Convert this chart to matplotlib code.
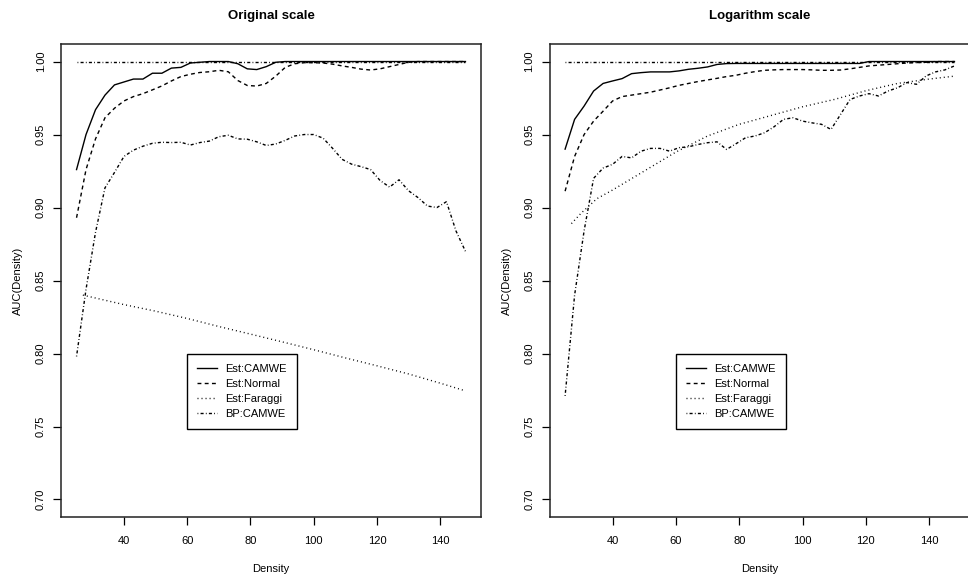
import matplotlib
matplotlib.use("Agg")
import matplotlib.pyplot as plt

plt.rcParams['font.family'] = ['Liberation Sans', 'DejaVu Sans']
plt.rcParams['lines.scale_dashes'] = False

# density grid shared by the estimated curves
density = [25, 28, 31, 34, 37, 40, 43, 46, 49, 52, 55, 58, 61, 64, 67, 70, 73,
           76, 79, 82, 85, 88, 91, 94, 97, 100, 103, 106, 109, 112, 115, 118,
           121, 124, 127, 130, 133, 136, 139, 142, 145, 148]

# --- original scale ---
orig_camwe = [0.926, 0.950, 0.967, 0.977, 0.984, 0.986, 0.988, 0.988, 0.992, 0.992,
              0.9955, 0.996, 0.999, 0.9995, 1.0, 1.0, 1.0, 0.9985, 0.995, 0.9945,
              0.9965, 0.9995, 1.0, 1.0, 1.0, 1.0, 1.0, 1.0, 1.0, 1.0, 1.0, 1.0,
              1.0, 1.0, 1.0, 1.0, 1.0, 1.0, 1.0, 1.0, 1.0, 1.0]
orig_normal = [0.893, 0.926, 0.947, 0.9615, 0.968, 0.973, 0.976, 0.978, 0.9806, 0.9833,
               0.9867, 0.9897, 0.9913, 0.9925, 0.993, 0.994, 0.993, 0.987, 0.9836, 0.9832,
               0.985, 0.990, 0.996, 0.9985, 0.9992, 0.9992, 0.999, 0.9982, 0.997, 0.996,
               0.9948, 0.9942, 0.995, 0.9965, 0.998, 0.9995, 1.0, 1.0, 1.0, 1.0, 1.0, 1.0]
orig_bp = [0.798, 0.844, 0.883, 0.9135, 0.924, 0.935, 0.9393, 0.942, 0.944, 0.9447,
           0.9445, 0.9447, 0.9428, 0.9445, 0.9455, 0.9485, 0.9495, 0.947, 0.9468, 0.945,
           0.9425, 0.9435, 0.946, 0.949, 0.950, 0.950, 0.9475, 0.9405, 0.933, 0.9297,
           0.928, 0.926, 0.9185, 0.914, 0.919, 0.9115, 0.9068, 0.901, 0.900, 0.904,
           0.884, 0.870]

# Faraggi estimate is on its own grid
faraggi_density = [27, 30, 35, 40, 50, 60, 70, 80, 90, 100, 110, 120, 130, 140, 148]
orig_faraggi = [0.840, 0.8385, 0.836, 0.8335, 0.829, 0.824, 0.8185, 0.8133, 0.808,
                0.8026, 0.797, 0.7916, 0.786, 0.7797, 0.7744]

# --- logarithm scale ---
log_camwe = [0.940, 0.9604, 0.9695, 0.9798, 0.985, 0.9867, 0.9883, 0.9917, 0.9924, 0.9929,
             0.9929, 0.9929, 0.9936, 0.9947, 0.9954, 0.9963, 0.998, 0.9986, 0.9987, 0.9987,
             0.9987, 0.9987, 0.9987, 0.9987, 0.9987, 0.9987, 0.9987, 0.9987, 0.9987, 0.9987,
             0.9987, 0.9987, 1.0, 1.0, 1.0, 1.0, 1.0, 1.0, 1.0, 1.0, 1.0, 1.0]
log_normal = [0.9112, 0.935, 0.950, 0.9592, 0.966, 0.973, 0.976, 0.977, 0.978, 0.979,
              0.9805, 0.982, 0.9837, 0.985, 0.9863, 0.9874, 0.9885, 0.9897, 0.9906, 0.992,
              0.9931, 0.994, 0.9943, 0.9945, 0.9945, 0.9945, 0.9943, 0.994, 0.994, 0.9942,
              0.995, 0.996, 0.997, 0.9975, 0.998, 0.9985, 0.999, 0.9993, 0.9995, 1.0, 1.0, 1.0]
log_bp = [0.771, 0.840, 0.884, 0.920, 0.927, 0.9296, 0.935, 0.934, 0.9386, 0.9405,
          0.9405, 0.9386, 0.941, 0.9416, 0.9432, 0.9444, 0.945, 0.9398, 0.9437, 0.9478,
          0.949, 0.9512, 0.9553, 0.9604, 0.9615, 0.9592, 0.958, 0.957, 0.9535, 0.9637,
          0.974, 0.9764, 0.978, 0.9764, 0.9798, 0.982, 0.9856, 0.9844, 0.9901, 0.9929,
          0.9943, 0.997]
log_faraggi = [0.889, 0.896, 0.906, 0.912, 0.925, 0.938, 0.949, 0.957, 0.963, 0.969,
               0.974, 0.980, 0.985, 0.988, 0.990]

# true AUC reference line
ref_density = [25, 148]
ref_auc = [1.0, 1.0]

xticks = [40, 60, 80, 100, 120, 140]
yticks = [0.70, 0.75, 0.80, 0.85, 0.90, 0.95, 1.00]

dash = (0, (2.8, 2.4))
dot = (0, (0.7, 2.2))
dotdash = (0, (0.6, 1.6, 2.2, 1.6))

fig = plt.figure(figsize=(9.68, 5.8), dpi=100)
ax1 = fig.add_axes([0.0630, 0.1086, 0.4339, 0.8155])
ax2 = fig.add_axes([0.5677, 0.1086, 0.4344, 0.8155])

panels = [
    (ax1, "Original scale", orig_camwe, orig_normal, orig_faraggi, orig_bp),
    (ax2, "Logarithm scale", log_camwe, log_normal, log_faraggi, log_bp),
]

for ax, title, camwe, normal, faraggi, bp in panels:
    lw = 1.0
    ax.plot(ref_density, ref_auc, color='black', lw=lw, linestyle=dotdash)
    ax.plot(density, camwe, color='black', lw=lw, linestyle='-', label='Est:CAMWE')
    ax.plot(density, normal, color='black', lw=lw, linestyle=dash, label='Est:Normal')
    ax.plot(faraggi_density, faraggi, color='black', lw=lw, linestyle=dot, label='Est:Faraggi')
    ax.plot(density, bp, color='black', lw=lw, linestyle=dotdash, label='BP:CAMWE')

    ax.set_xlim(20.08, 152.92)
    ax.set_ylim(0.688, 1.012)
    ax.set_xticks(xticks)
    ax.set_yticks(yticks)
    ax.set_xticklabels([str(t) for t in xticks])
    ax.set_yticklabels([f"{t:.2f}" for t in yticks], rotation=90, va='center')
    ax.tick_params(axis='both', direction='out', length=6, width=0.9,
                   labelsize=8, color='black')
    ax.tick_params(axis='x', pad=7.5)
    ax.tick_params(axis='y', pad=5)
    for s in ax.spines.values():
        s.set_linewidth(1.1)
        s.set_color('#222222')

    ax.set_title(title, fontsize=9.5, fontweight='bold', pad=18)
    ax.set_xlabel("Density", fontsize=8, labelpad=13)
    ax.set_ylabel("AUC(Density)", fontsize=8, labelpad=9)

    leg = ax.legend(loc='upper left', bbox_to_anchor=(60, 0.80),
                    bbox_transform=ax.transData, borderaxespad=0,
                    fontsize=8, handlelength=1.8, handletextpad=0.75,
                    labelspacing=0.46, borderpad=0.9, fancybox=False,
                    framealpha=1, edgecolor='black')
    leg.get_frame().set_linewidth(1.0)

fig.savefig("out.png", dpi=100)
